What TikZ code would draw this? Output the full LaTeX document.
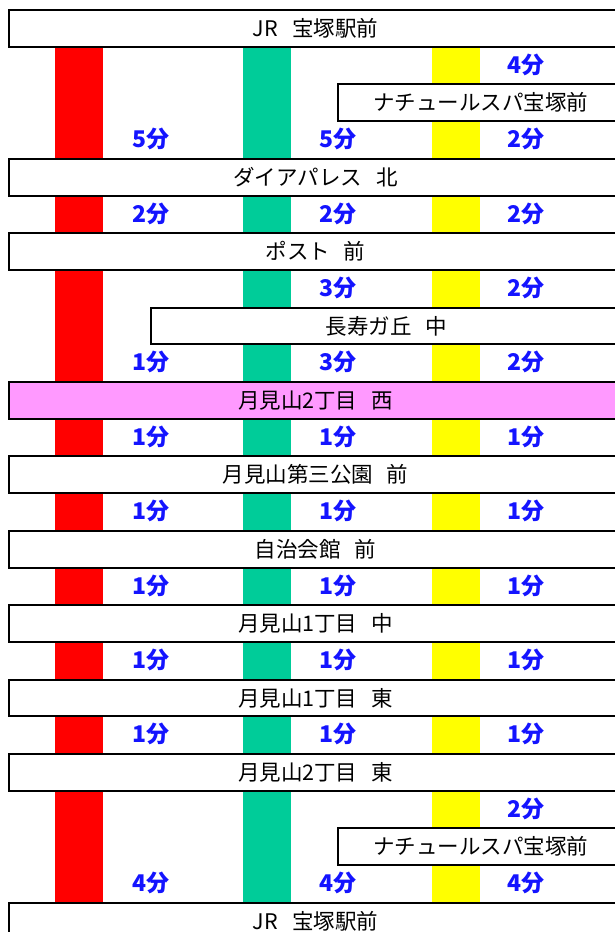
\documentclass[tikz,border=0pt]{standalone}
\usepackage{fontspec}
\setmainfont{Noto Sans CJK JP}
\definecolor{busred}{RGB}{255,0,0}
\definecolor{busgreen}{RGB}{0,204,153}
\definecolor{busyellow}{RGB}{255,255,0}
\definecolor{nishipink}{RGB}{255,153,255}
\definecolor{minblue}{RGB}{20,20,255}
\newcommand{\stopgap}{\hspace{0.65em}}
\begin{document}
\begin{tikzpicture}[x=1pt,y=-1pt,
	stopbox/.style={draw,line width=2pt,fill=white,anchor=north west,inner sep=0pt,minimum height=36.7pt,font=\fontsize{21.5}{24}\selectfont},
	fullbox/.style={stopbox,minimum width=613pt},
	mins/.style={text=minblue,inner sep=0pt,font=\fontsize{23}{26}\selectfont\bfseries}]
	\useasboundingbox (0,0) rectangle (615,932);
	\clip (0,0) rectangle (615,932);
	\fill[white](0,0) rectangle (615,932);

	\fill[busred](55,9) rectangle (103,932);
	\fill[busgreen](243,9) rectangle (291,932);
	\fill[busyellow](432,9) rectangle (480,932);

	\node[fullbox] (jr1) at (8,9) {JR\stopgap 宝塚駅前};
	\node[stopbox,minimum width=285pt] (nachu1) at (337,83.4) {ナチュールスパ宝塚前};
	\node[fullbox] (daiya) at (8,157.8) {ダイアパレス\stopgap 北};
	\node[fullbox] (post) at (8,232.2) {ポスト\stopgap 前};
	\node[stopbox,minimum width=471pt] (choju) at (150,306.6) {長寿ガ丘\stopgap 中};
	\node[fullbox,fill=nishipink] (nishi) at (8,381) {月見山2丁目\stopgap 西};
	\node[fullbox] (koen) at (8,455.4) {月見山第三公園\stopgap 前};
	\node[fullbox] (jichi) at (8,529.8) {自治会館\stopgap 前};
	\node[fullbox] (naka) at (8,604.2) {月見山1丁目\stopgap 中};
	\node[fullbox] (higashi1) at (8,678.6) {月見山1丁目\stopgap 東};
	\node[fullbox] (higashi2) at (8,753) {月見山2丁目\stopgap 東};
	\node[stopbox,minimum width=285pt] (nachu2) at (337,827.4) {ナチュールスパ宝塚前};
	\node[fullbox] (jr2) at (8,901.8) {JR\stopgap 宝塚駅前};

	\node[mins] (y1) at (526,64.8) {4分};
	\node[mins] (r2) at (151,139.2) {5分};
	\node[mins] (g2) at (338,139.2) {5分};
	\node[mins] (y2) at (526,139.2) {2分};
	\node[mins] (r3) at (151,213.6) {2分};
	\node[mins] (g3) at (338,213.6) {2分};
	\node[mins] (y3) at (526,213.6) {2分};
	\node[mins] (g4) at (338,288) {3分};
	\node[mins] (y4) at (526,288) {2分};
	\node[mins] (r5) at (151,362.4) {1分};
	\node[mins] (g5) at (338,362.4) {3分};
	\node[mins] (y5) at (526,362.4) {2分};
	\node[mins] (r6) at (151,436.8) {1分};
	\node[mins] (g6) at (338,436.8) {1分};
	\node[mins] (y6) at (526,436.8) {1分};
	\node[mins] (r7) at (151,511.2) {1分};
	\node[mins] (g7) at (338,511.2) {1分};
	\node[mins] (y7) at (526,511.2) {1分};
	\node[mins] (r8) at (151,585.6) {1分};
	\node[mins] (g8) at (338,585.6) {1分};
	\node[mins] (y8) at (526,585.6) {1分};
	\node[mins] (r9) at (151,660) {1分};
	\node[mins] (g9) at (338,660) {1分};
	\node[mins] (y9) at (526,660) {1分};
	\node[mins] (r10) at (151,734.4) {1分};
	\node[mins] (g10) at (338,734.4) {1分};
	\node[mins] (y10) at (526,734.4) {1分};
	\node[mins] (y11) at (526,808.8) {2分};
	\node[mins] (r12) at (151,883.2) {4分};
	\node[mins] (g12) at (338,883.2) {4分};
	\node[mins] (y12) at (526,883.2) {4分};
\end{tikzpicture}
\end{document}
